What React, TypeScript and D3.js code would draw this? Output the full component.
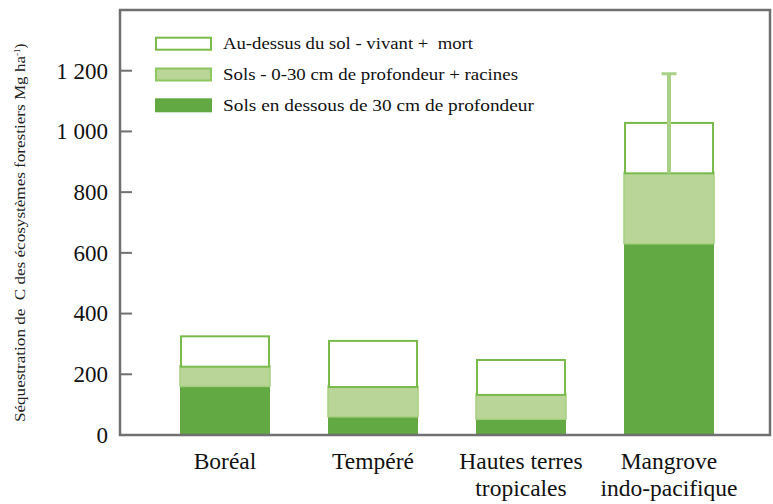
import React from "react";
import * as d3 from "d3";

const categories: string[][] = [
  ["Boréal"],
  ["Tempéré"],
  ["Hautes terres", "tropicales"],
  ["Mangrove", "indo-pacifique"],
];
const deepSoil = [160, 60, 52, 630];
const topSoil = [65, 98, 80, 232];
const aboveGround = [100, 152, 115, 166];
const errorHigh: (number | null)[] = [null, null, null, 1190];
const yTicks = [0, 200, 400, 600, 800, 1000, 1200];
const legendLabels = [
  "Au-dessus du sol - vivant +\u00A0 mort",
  "Sols - 0-30 cm de profondeur + racines",
  "Sols en dessous de 30 cm de profondeur",
];
const legendWidths = [250, 295, 311];

const W = 773;
const H = 504;
const FRAME = { left: 120, right: 770, top: 10, bottom: 435 };
const DARK = "#62a843";
const LIGHT = "#b9d597";
const EDGE = "#78bb4b";
const AXIS = "#707070";
const FONT = "Liberation Serif";
const TS: React.CSSProperties = { fontFamily: '"Liberation Serif", "Times New Roman", serif' };

function fmt(v: number) {
  if (v >= 1000) {
    const s = String(v);
    return s.slice(0, s.length - 3) + "\u00A0" + s.slice(s.length - 3);
  }
  return String(v);
}

export default function App() {
  const x = d3
    .scaleBand<number>()
    .domain(d3.range(categories.length))
    .range([151, 743])
    .paddingInner(0.392)
    .paddingOuter(0.196);
  const y = d3.scaleLinear().domain([0, 1400]).range([FRAME.bottom, FRAME.top]);

  const rows = categories.map((_, i) => ({
    i,
    deep: deepSoil[i],
    top: topSoil[i],
    above: aboveGround[i],
  }));
  const stack = d3.stack<any>().keys(["deep", "top", "above"]);
  const series = stack(rows);
  const bw = x.bandwidth();

  return (
    <svg
      width={W}
      height={H}
      style={{ position: "absolute", left: 0, top: 0 }}
    >
      <style>{`text, tspan { font-family: "Liberation Serif", "Times New Roman", serif !important; }`}</style>
      {/* y label */}
      <text
        transform={`translate(25, 422) rotate(-90)`}
        textAnchor="start"
        fontSize={14.5}
        fontFamily={FONT}
        style={TS}
        fill="#222"
      >
        <tspan textLength={366} lengthAdjust="spacingAndGlyphs">
          {"Séquestration de \u00A0C des écosystèmes forestiers Mg ha"}
        </tspan>
        <tspan dy={-5} fontSize={9}>-1</tspan>
        <tspan dy={5}>)</tspan>
      </text>

      {/* bars */}
      {rows.map((r, i) => {
        const x0 = x(i)!;
        const [d0, d1] = series[0][i];
        const [l0, l1] = series[1][i];
        const [w0, w1] = series[2][i];
        return (
          <g key={i}>
            <rect x={x0} y={y(d1)} width={bw} height={y(d0) - y(d1)} fill={DARK} />
            <rect x={x0} y={y(l1)} width={bw} height={y(l0) - y(l1)} fill={LIGHT} />
            <rect
              x={x0}
              y={y(l1) - 1}
              width={bw}
              height={y(d1) - y(l1) + 1}
              fill="none"
              stroke="#a6d07f"
              strokeWidth={1.5}
            />
            <rect
              x={x0 + 1}
              y={y(w1)}
              width={bw - 2}
              height={y(w0) - y(w1)}
              fill="#fff"
              stroke={EDGE}
              strokeWidth={2}
            />
          </g>
        );
      })}

      {/* error bars */}
      {rows.map((r, i) => {
        const e = errorHigh[i];
        if (e == null) return null;
        const cx = x(i)! + bw / 2;
        const base = series[1][i][1];
        return (
          <g key={"e" + i} stroke="#a9d087">
            <line x1={cx} x2={cx} y1={y(base)} y2={y(e)} strokeWidth={4} />
            <line x1={cx - 7.5} x2={cx + 7.5} y1={y(e)} y2={y(e)} strokeWidth={3} />
          </g>
        );
      })}

      {/* frame */}
      <rect
        x={FRAME.left}
        y={FRAME.top}
        width={FRAME.right - FRAME.left}
        height={FRAME.bottom - FRAME.top}
        fill="none"
        stroke={AXIS}
        strokeWidth={2.5}
      />
      {yTicks.map((t) => (
        <g key={t}>
          {t > 0 && (
            <line
              x1={FRAME.left}
              x2={FRAME.left + 12}
              y1={y(t)}
              y2={y(t)}
              stroke={AXIS}
              strokeWidth={2}
            />
          )}
          <text
            x={108}
            y={y(t)}
            dy="0.34em"
            textAnchor="end"
            fontSize={23}
            fontFamily={FONT}
            style={TS}
            fill="#111"
          >
            {fmt(t)}
          </text>
        </g>
      ))}

      {/* category labels */}
      {categories.map((lines, i) => (
        <text
          key={i}
          x={x(i)! + bw / 2}
          y={469}
          textAnchor="middle"
          fontSize={23.5}
          fontFamily={FONT}
          style={TS}
          fill="#111"
        >
          {lines.map((l, k) => (
            <tspan key={k} x={x(i)! + bw / 2} dy={k === 0 ? 0 : 27}>
              {l}
            </tspan>
          ))}
        </text>
      ))}

      {/* legend */}
      {legendLabels.map((lab, k) => {
        const cy = 43.7 + k * 30.8;
        const fill = k === 0 ? "#fff" : k === 1 ? LIGHT : DARK;
        const stroke = k === 0 ? EDGE : k === 1 ? "#8cc760" : DARK;
        return (
          <g key={k}>
            <rect x={156} y={cy - 6} width={55} height={12} fill={fill} stroke={stroke} strokeWidth={2} />
            <text
              x={223}
              y={cy}
              dy="0.35em"
              fontSize={16.5}
              fontFamily={FONT}
              style={TS}
              fill="#111"
              textLength={legendWidths[k]}
              lengthAdjust="spacingAndGlyphs"
            >
              {lab}
            </text>
          </g>
        );
      })}
    </svg>
  );
}
